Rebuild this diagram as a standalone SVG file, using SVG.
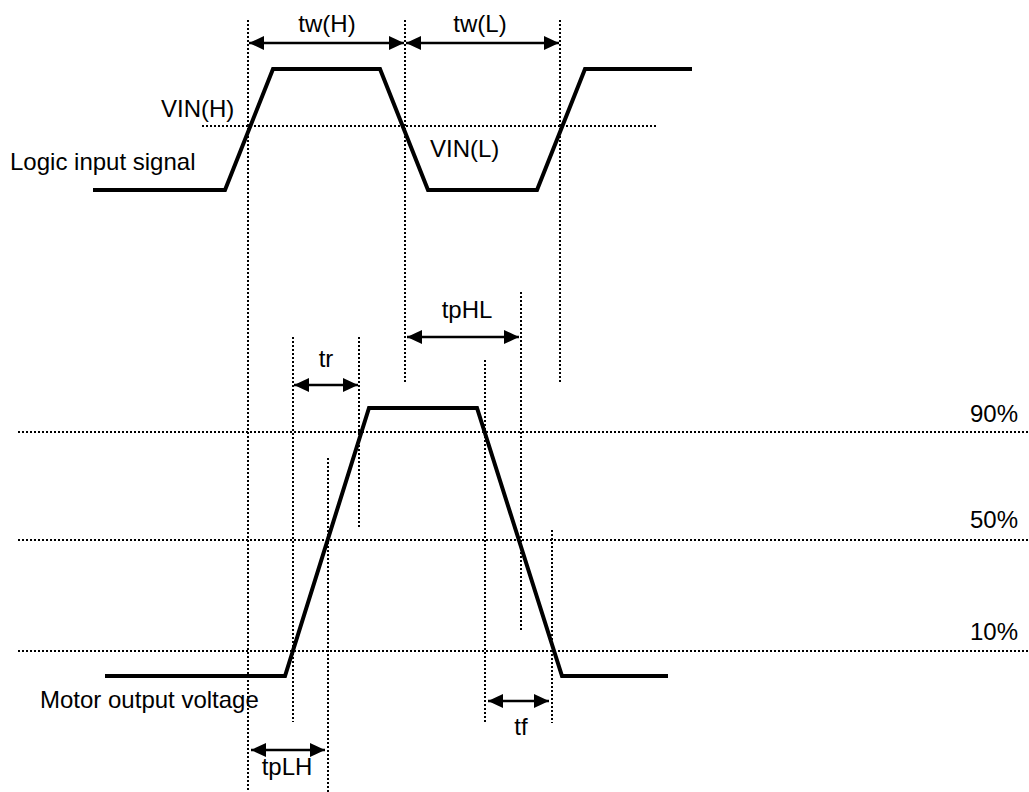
<svg xmlns="http://www.w3.org/2000/svg" width="1029" height="792" viewBox="0 0 1029 792">
<style>
.bg{fill:#fff}
.sig{fill:none;stroke:#000;stroke-width:4;stroke-linejoin:miter}
.dot{fill:none;stroke:#000;stroke-width:2;stroke-dasharray:2 2;shape-rendering:crispEdges}
.arr{fill:none;stroke:#000;stroke-width:2.5;marker-start:url(#ah);marker-end:url(#ah)}
text{font-family:"Liberation Sans",Arial,sans-serif;font-size:24px;fill:#000}
.c{text-anchor:middle}
</style>
<defs>
<marker id="ah" viewBox="0 0 15 14" refX="15" refY="7" markerWidth="15" markerHeight="14" markerUnits="userSpaceOnUse" orient="auto-start-reverse">
<path d="M0,0 L15,7 L0,14 Z" fill="#000"/>
</marker>
</defs>
<rect class="bg" x="0" y="0" width="1029" height="792"/>
<g id="guides">
<line class="dot" x1="248" y1="20" x2="248" y2="792"/>
<line class="dot" x1="405" y1="20" x2="405" y2="383"/>
<line class="dot" x1="560" y1="20" x2="560" y2="383"/>
<line class="dot" x1="293" y1="337" x2="293" y2="722"/>
<line class="dot" x1="359" y1="337" x2="359" y2="529"/>
<line class="dot" x1="328" y1="458" x2="328" y2="792"/>
<line class="dot" x1="521" y1="292" x2="521" y2="630"/>
<line class="dot" x1="485" y1="360" x2="485" y2="723"/>
<line class="dot" x1="552" y1="530" x2="552" y2="723"/>
<line class="dot" x1="202" y1="126" x2="657" y2="126"/>
<line class="dot" x1="18" y1="432" x2="1029" y2="432"/>
<line class="dot" x1="18" y1="540" x2="1029" y2="540"/>
<line class="dot" x1="18" y1="651" x2="1029" y2="651"/>
</g>
<g id="logic-input">
<polyline class="sig" points="93,190 225,190 273,69 380,69 428,190 537,190 585,69 692,69"/>
<text x="10" y="170">Logic input signal</text>
<text x="161" y="117">VIN(H)</text>
<text x="430" y="157">VIN(L)</text>
</g>
<g id="motor-output">
<polyline class="sig" points="105,676 285,676 369,408 477,408 562,676 668,676"/>
<text x="40" y="708">Motor output voltage</text>
<text x="970" y="422">90%</text>
<text x="970" y="528">50%</text>
<text x="970" y="640">10%</text>
</g>
<g id="connectors">
<line class="arr" x1="249" y1="43" x2="404" y2="43"/>
<line class="arr" x1="406" y1="43" x2="559" y2="43"/>
<line class="arr" x1="294" y1="385" x2="358" y2="385"/>
<line class="arr" x1="407" y1="337" x2="519" y2="337"/>
<line class="arr" x1="251" y1="750" x2="325" y2="750"/>
<line class="arr" x1="488" y1="701" x2="549" y2="701"/>
</g>
<g id="labels">
<text class="c" x="327" y="32">tw(H)</text>
<text class="c" x="480" y="32">tw(L)</text>
<text class="c" x="326" y="367">tr</text>
<text class="c" x="467" y="318">tpHL</text>
<text class="c" x="287" y="775">tpLH</text>
<text class="c" x="521" y="735">tf</text>
</g>
</svg>
